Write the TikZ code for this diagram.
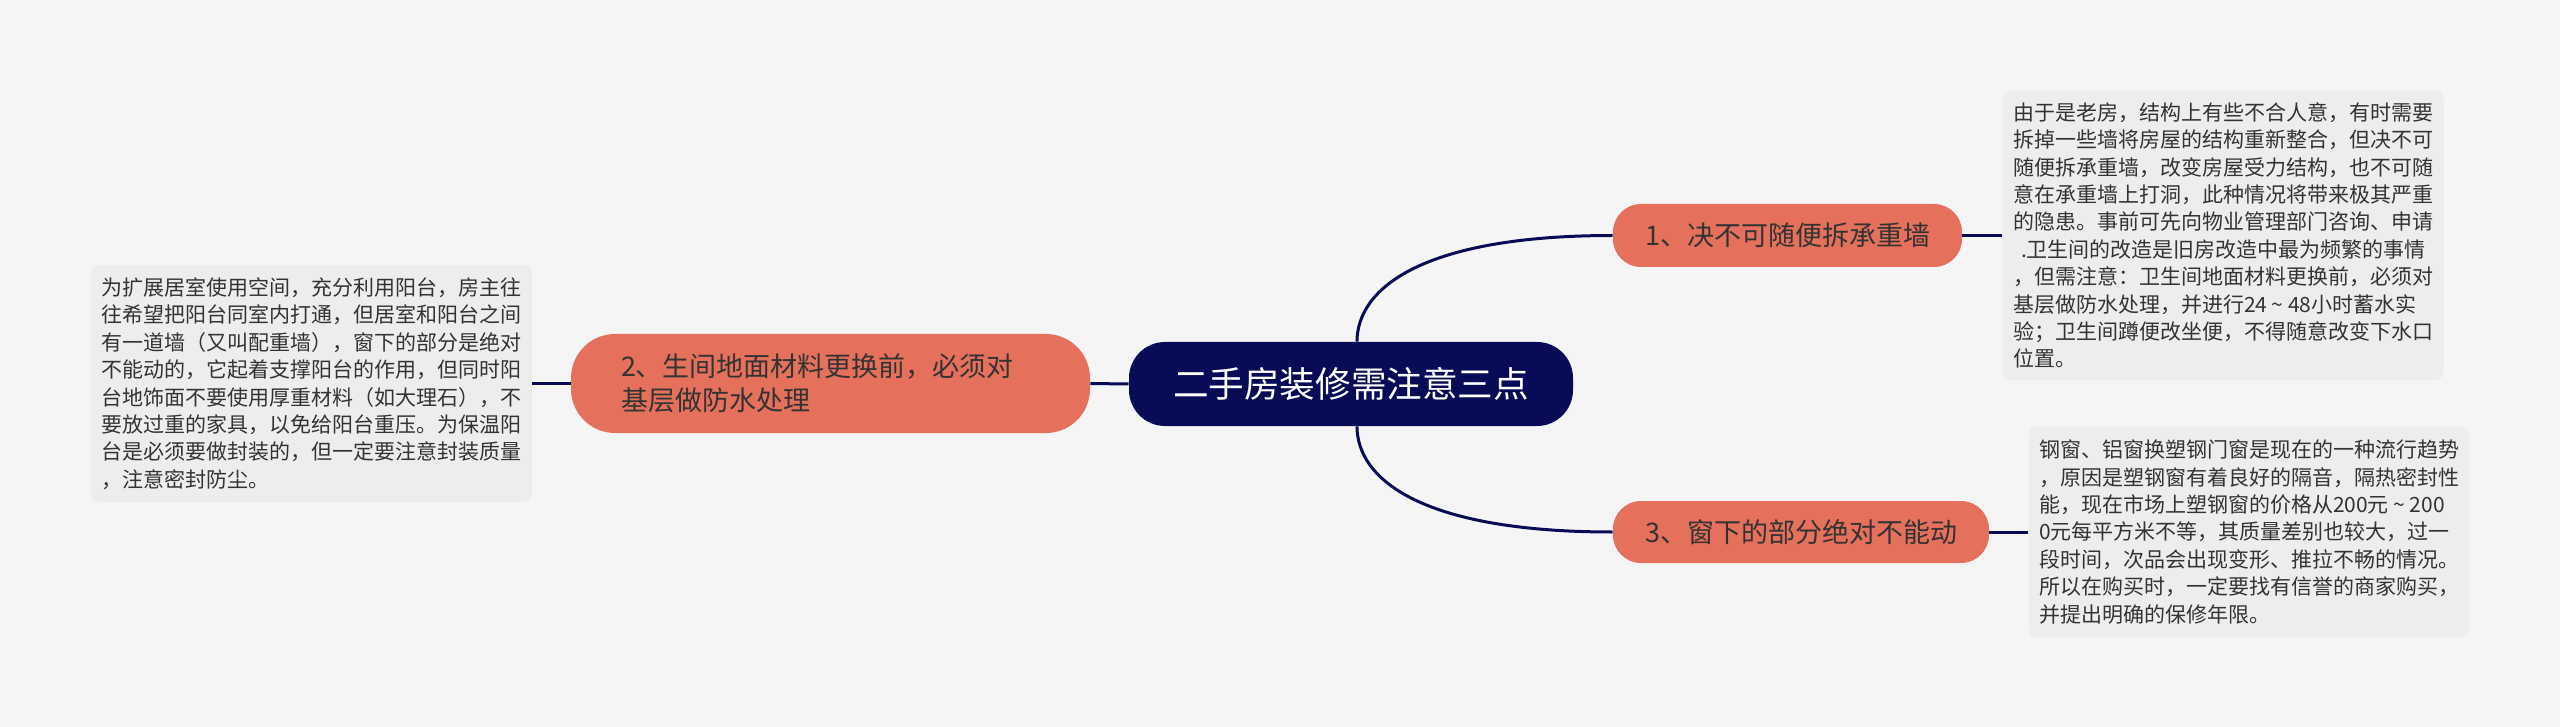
\documentclass[tikz,border=0pt]{standalone}
\usepackage{fontspec}
\setmainfont{Noto Sans CJK SC}
\definecolor{bgc}{HTML}{F5F5F5}
\definecolor{navy}{HTML}{080C56}
\definecolor{orangec}{HTML}{E5705B}
\definecolor{notec}{HTML}{EDEDED}
\definecolor{txt}{HTML}{333333}
\newcommand{\wavesep}{\makebox[1em]{\textasciitilde}}
\tikzset{
  root/.style={fill=navy, text=white, rounded corners=18pt, minimum width=222pt, minimum height=42pt, inner sep=0pt, font=\fontsize{17.8}{21}\selectfont},
  topic/.style={fill=orangec, text=txt, inner sep=0pt, font=\fontsize{13.5}{17}\selectfont},
  note/.style={fill=notec, text=txt, rounded corners=4pt, align=left, inner sep=0pt, minimum width=220.5pt, font=\fontsize{10.5}{13.7}\selectfont},
  link/.style={draw=navy, line width=1.5pt}
}
\begin{document}
\begin{tikzpicture}[x=0.5pt,y=-0.5pt]
\useasboundingbox[fill=bgc] (0,0) rectangle (2560,727);

\node[root] (c) at (1351,384) {二手房装修需注意三点};

\node[topic, rounded corners=22pt, minimum height=49.5pt, text width=209.5pt, inner xsep=25pt, align=left, font=\fontsize{13.5}{17}\selectfont] (n2) at (830.5,383.5)
  {2、生间地面材料更换前，必须对\\基层做防水处理};
\node[topic, rounded corners=14pt, minimum width=174.5pt, minimum height=31.5pt] (n1) at (1787.5,235.5) {1、决不可随便拆承重墙};
\node[topic, rounded corners=14pt, minimum width=188pt, minimum height=31pt] (n3) at (1801,532) {3、窗下的部分绝对不能动};

\node[note, minimum height=118.5pt] (l2) at (311.5,383.5) {为扩展居室使用空间，充分利用阳台，房主往\\往希望把阳台同室内打通，但居室和阳台之间\\有一道墙（又叫配重墙），窗下的部分是绝对\\不能动的，它起着支撑阳台的作用，但同时阳\\台地饰面不要使用厚重材料（如大理石），不\\要放过重的家具，以免给阳台重压。为保温阳\\台是必须要做封装的，但一定要注意封装质量\\，注意密封防尘。};

\node[note, minimum height=144.5pt] (l1) at (2223,235.5) {由于是老房，结构上有些不合人意，有时需要\\拆掉一些墙将房屋的结构重新整合，但决不可\\随便拆承重墙，改变房屋受力结构，也不可随\\意在承重墙上打洞，此种情况将带来极其严重\\的隐患。事前可先向物业管理部门咨询、申请\\\hspace*{4pt}.卫生间的改造是旧房改造中最为频繁的事情\\，但需注意：卫生间地面材料更换前，必须对\\基层做防水处理，并进行24\wavesep48小时蓄水实\\验；卫生间蹲便改坐便，不得随意改变下水口\\位置。};

\node[note, minimum height=105pt] (l3) at (2249,532) {钢窗、铝窗换塑钢门窗是现在的一种流行趋势\\，原因是塑钢窗有着良好的隔音，隔热密封性\\能，现在市场上塑钢窗的价格从200元\wavesep200\\0元每平方米不等，其质量差别也较大，过一\\段时间，次品会出现变形、推拉不畅的情况。\\所以在购买时，一定要找有信誉的商家购买，\\并提出明确的保修年限。};

\draw[link] (c.west) -- (n2.east);
\draw[link] (n2.west) -- (l2.east);
\draw[link] ([xshift=3pt]c.north) .. controls +(0,-52) and +(-193,0) .. (n1.west);
\draw[link] ([xshift=3pt]c.south) .. controls +(0,52) and +(-193,0) .. (n3.west);
\draw[link] (n1.east) -- (l1.west);
\draw[link] (n3.east) -- (l3.west);
\end{tikzpicture}
\end{document}
